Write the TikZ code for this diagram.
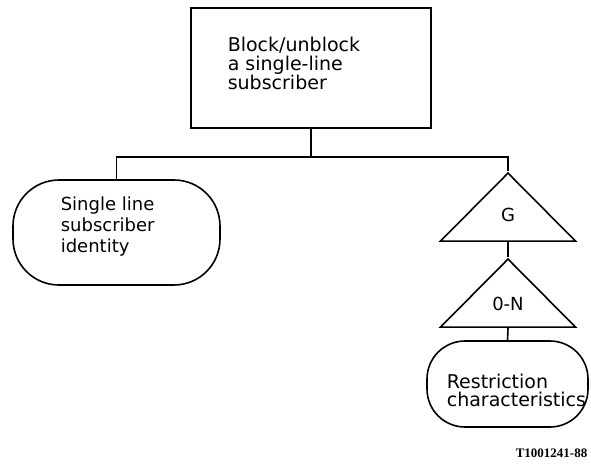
\documentclass[tikz,border=0pt]{standalone}
\usepackage{fontspec}
\setmainfont{DejaVu Sans}
\newfontfamily\codefont{Liberation Serif}
\usetikzlibrary{positioning,shapes.geometric}

\begin{document}
\begin{tikzpicture}[x=1pt,y=-1pt,line width=1.6pt,
    procbox/.style={draw,rectangle,minimum width=240pt,minimum height=120pt,inner sep=0pt},
    databox/.style={draw,rectangle,inner sep=0pt},
    grptri/.style={draw,isosceles triangle,isosceles triangle stretches,shape border rotate=90,
      minimum width=135pt,minimum height=68pt,inner sep=0pt,font=\fontsize{18}{20}\selectfont},
    lbl/.style={align=left,inner sep=0pt,anchor=north west}]
    \useasboundingbox (0,0) rectangle (591,466);

    % Top procedure box
    \node[procbox] (blk) at (311,68) {};
    \node[lbl,font=\fontsize{19}{19}\selectfont] (blktxt) at (227,36)
      {Block/unblock\\a single-line\\subscriber};

    % Data items
    \node[databox,rounded corners=46pt,minimum width=207pt,minimum height=105pt] (ident) at (116.5,232.5) {};
    \node[lbl,font=\fontsize{18}{21}\selectfont] (identtxt) at (60,196.5)
      {Single line\\subscriber\\identity};

    \node[grptri,anchor=apex] (gtri) at (508,171) {G};
    \node[grptri,anchor=apex] (ntri) at (508,257) {0-N};

    \node[databox,rounded corners=38pt,minimum width=161pt,minimum height=86pt] (restr) at (507.5,384) {};
    \node[lbl,font=\fontsize{19}{18.5}\selectfont] (restrtxt) at (446,373)
      {Restriction\\characteristics};

    % Connectors
    \coordinate (busR) at (508,157);
    \draw (blk.south) -- (blk.south |- busR);
    \draw (ident.north) |- (busR) -- (gtri.apex);
    \draw (gtri.lower side) -- (ntri.apex);
    \draw (ntri.lower side) -- (restr.north);

    % Figure number
    \node[font=\codefont\bfseries\fontsize{13}{13}\selectfont,anchor=base west,inner sep=0pt]
      (figid) at (515,457) {T1001241-88};
\end{tikzpicture}
\end{document}
